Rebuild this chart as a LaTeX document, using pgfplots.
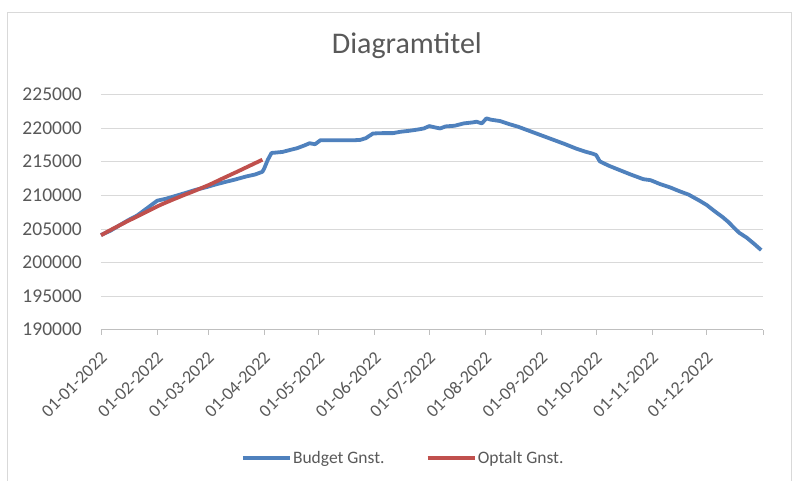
\documentclass[border=0pt]{standalone}
\usepackage{pgfplots}
\pgfplotsset{compat=1.18}
\usepackage{fontspec}
\setmainfont{Carlito}
\definecolor{bblue}{HTML}{4F81BD}
\definecolor{rred}{HTML}{C0504D}
\definecolor{gridc}{HTML}{D9D9D9}
\definecolor{txt}{HTML}{595959}
\definecolor{axc}{HTML}{BFBFBF}
\begin{document}
\begin{tikzpicture}
\path[use as bounding box] (-101bp,-151.3bp) rectangle (693bp,329.7bp);
\fill[white] (-101bp,-151.3bp) rectangle (693bp,329.7bp);
\draw[gridc, line width=1bp] (-93bp,-151.3bp) -- (-93bp,317bp) -- (690bp,317bp) -- (690bp,-151.3bp);
\begin{axis}[
  at={(0,0)}, anchor=south west,
  scale only axis, width=662bp, height=235.2bp,
  xmin=0, xmax=365, ymin=190000, ymax=225000,
  axis x line*=bottom, axis y line*=left,
  x axis line style={draw=axc, line width=0.8bp},
  y axis line style={draw=none},
  ytick={190000,195000,...,225000},
  ymajorgrids, grid style={gridc, line width=0.8bp},
  xtick={0,31,59,90,120,151,181,212,243,273,304,334,365},
  xticklabels={01-01-2022,01-02-2022,01-03-2022,01-04-2022,01-05-2022,01-06-2022,01-07-2022,01-08-2022,01-09-2022,01-10-2022,01-11-2022,01-12-2022,{}},
  xtick style={draw=axc, line width=0.8bp},
  ytick style={draw=none},
  xtick align=outside, major tick length=5bp,
  scaled y ticks=false,
  /pgf/number format/assume math mode=true,
  yticklabel style={/pgf/number format/1000 sep={}, /pgf/number format/fixed, font=\fontsize{19.5bp}{22bp}\selectfont, text=txt, anchor=east, inner sep=0pt, xshift=-19bp},
  xticklabel style={font=\fontsize{18bp}{21bp}\selectfont, text=txt, inner sep=0pt, xshift=3bp, yshift=-20bp, rotate=45, anchor=east},
  title={Diagramtitel},
  title style={at={(0.462,1.147)}, anchor=base, font=\fontsize{30bp}{34bp}\selectfont, text=txt},
  legend columns=2,
  legend style={at={(0.456,-0.5455)}, anchor=center, draw=none, fill=none, font=\fontsize{17.5bp}{21bp}\selectfont, text=txt,
    nodes={inner sep=1.2bp},
    /tikz/every even column/.append style={column sep=40bp}},
  legend image code/.code={\draw[#1, line width=3.8bp] (0bp,0bp) -- (47bp,0bp);},
  clip=false,
]
\addplot[bblue, line width=3.8bp, line join=round] coordinates {
(0,204100) (5,204700) (10,205500) (15,206300) (20,207000) (25,208000) (28,208600)
(31,209200) (36,209500) (41,209900) (46,210300) (52,210800) (58,211200) (63,211600)
(68,211950) (74,212350) (80,212800) (85,213100) (89,213500) (90,214000) (92,215300)
(94,216300) (100,216450) (105,216800) (108,217000) (112,217400) (115,217750) (118,217600)
(121,218200) (130,218200) (140,218200) (143,218250) (146,218500) (150,219200) (155,219250)
(161,219250) (165,219450) (170,219600) (175,219800) (178,219950) (181,220300) (185,220050)
(187,219950) (190,220250) (195,220350) (200,220700) (205,220850) (207,220950) (210,220700)
(212.5,221450) (215,221250) (220,221050) (225,220600) (230,220200) (235,219700) (240,219200)
(245,218700) (251,218100) (256,217600) (262,216950) (267,216500) (271,216200) (273,216000)
(275,215050) (280,214400) (286,213750) (292,213100) (299,212400) (303,212250) (308,211700)
(314,211150) (319,210600) (324,210100) (330,209200) (334,208550) (338,207700) (343,206700)
(346,206000) (350,204900) (352,204400) (356,203700) (360,202800) (364,201850)
};
\addlegendentry{Budget Gnst.}
\addplot[rred, line width=3.8bp, line join=round] coordinates {
(0,204050) (5,204800) (10,205500) (15,206200) (20,206850) (27,207800) (33,208600)
(40,209400) (45,209950) (52,210700) (60,211600) (67,212500) (75,213500) (82,214400) (89,215300)
};
\addlegendentry{Optalt Gnst.}
\end{axis}
\end{tikzpicture}
\end{document}
